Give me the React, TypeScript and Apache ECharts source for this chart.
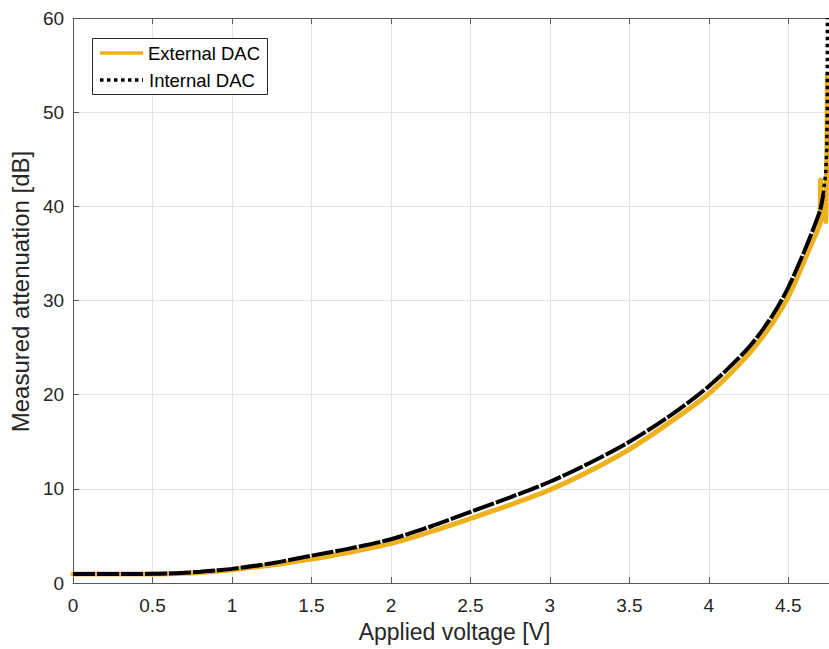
import React, { useEffect, useRef } from "react";
import * as echarts from "echarts";

// Applied voltage [V] vs measured attenuation [dB]
const externalDAC: [number, number][] = [
  [0, 0.95], [0.3, 0.95], [0.5, 0.95], [0.6, 0.98], [0.7, 1.03], [0.8, 1.12], [0.9, 1.25],
  [1.0, 1.4], [1.25, 1.9], [1.5, 2.55], [1.75, 3.3], [2.0, 4.2], [2.25, 5.45], [2.5, 6.85],
  [2.75, 8.3], [3.0, 9.9], [3.25, 11.9], [3.5, 14.2], [3.75, 17.0], [4.0, 20.1],
  [4.25, 24.3], [4.4, 27.6], [4.5, 30.4], [4.57, 33.0], [4.62, 35.0], [4.68, 37.3],
  [4.7, 38.2],
];

const externalDACTail: [number, number][] = [
  [4.7, 38.2], [4.703, 42.8], [4.708, 38.6], [4.73, 39.2], [4.736, 38.4], [4.742, 45],
  [4.746, 54], [4.749, 47], [4.752, 52],
];

const internalDAC: [number, number][] = [
  [0, 0.95], [0.3, 0.95], [0.5, 0.97], [0.6, 1.0], [0.7, 1.08], [0.8, 1.2], [0.9, 1.35],
  [1.0, 1.5], [1.25, 2.1], [1.5, 2.9], [1.75, 3.7], [2.0, 4.65], [2.25, 6.0], [2.5, 7.55],
  [2.75, 9.1], [3.0, 10.75], [3.25, 12.75], [3.5, 15.0], [3.75, 17.7], [4.0, 20.9],
  [4.25, 25.0], [4.4, 28.4], [4.5, 31.4], [4.6, 35.2], [4.65, 37.3], [4.7, 39.6],
  [4.72, 41.3],
];

const internalDACTail: [number, number][] = [
  [4.72, 41.3], [4.735, 43.5], [4.742, 46], [4.745, 50], [4.746, 60],
];

const xTicks = { min: 0, max: 4.8, interval: 0.5 };
const yTicks = { min: 0, max: 60, interval: 10 };

const xTitle = "Applied voltage [V]";
const yTitle = "Measured attenuation [dB]";
const legendNames = ["External DAC", "Internal DAC"];

const FONT = "'Liberation Sans', Arial, Helvetica, sans-serif";
const ORANGE = "#EDB120";
const AXIS = "#5a5a5a";
const TEXT = "#262626";
const GRID = "#e3e3e3";

export default function App() {
  const ref = useRef<HTMLDivElement>(null);
  useEffect(() => {
    if (!ref.current) return;
    const chart = echarts.init(ref.current, undefined, { renderer: "svg" });
    const fmt = (v: number) =>
      Math.abs(v * 2 - Math.round(v * 2)) < 1e-6 ? String(Math.round(v * 10) / 10) : "";
    const orangeStyle = { color: ORANGE, width: 5, join: "round", cap: "round" };
    chart.setOption({
      animation: false,
      backgroundColor: "#ffffff",
      grid: { left: 72, right: 4, top: 18, bottom: 66, containLabel: false },
      xAxis: [
        {
          type: "value",
          ...xTicks,
          name: xTitle,
          nameLocation: "middle",
          nameGap: 37,
          nameTextStyle: { fontFamily: FONT, fontSize: 23, color: TEXT },
          axisLine: { show: true, lineStyle: { color: AXIS, width: 1 } },
          axisTick: { show: true, inside: true, length: 6, lineStyle: { color: AXIS } },
          axisLabel: { margin: 13, fontFamily: FONT, fontSize: 19, color: TEXT, formatter: fmt },
          splitLine: { show: true, lineStyle: { color: GRID, width: 1 } },
        },
        {
          type: "value",
          position: "top",
          ...xTicks,
          axisLine: { show: true, onZero: false, lineStyle: { color: AXIS, width: 1 } },
          axisTick: { show: true, inside: true, length: 6, lineStyle: { color: AXIS } },
          axisLabel: { show: false },
          splitLine: { show: false },
        },
      ],
      yAxis: {
        type: "value",
        ...yTicks,
        name: yTitle,
        nameLocation: "middle",
        nameGap: 40,
        nameTextStyle: { fontFamily: FONT, fontSize: 24, color: TEXT, padding: [0, 0, 0, 18] },
        axisLine: { show: true, lineStyle: { color: AXIS, width: 1 } },
        axisTick: { show: true, inside: true, length: 6, lineStyle: { color: AXIS } },
        axisLabel: { margin: 9, fontFamily: FONT, fontSize: 19, color: TEXT },
        splitLine: { show: true, lineStyle: { color: GRID, width: 1 } },
      },
      series: [
        {
          name: legendNames[0],
          type: "line",
          xAxisIndex: 0,
          data: externalDAC,
          showSymbol: false,
          smooth: 0.3,
          lineStyle: orangeStyle,
          itemStyle: { color: ORANGE },
        },
        {
          name: legendNames[0],
          type: "line",
          xAxisIndex: 0,
          data: externalDACTail,
          showSymbol: false,
          lineStyle: orangeStyle,
          itemStyle: { color: ORANGE },
        },
        {
          name: legendNames[1],
          type: "line",
          xAxisIndex: 0,
          data: internalDAC,
          showSymbol: false,
          smooth: 0.3,
          lineStyle: { color: "#000", width: 4, type: [22, 2] },
          itemStyle: { color: "#000" },
        },
        {
          name: legendNames[1],
          type: "line",
          xAxisIndex: 0,
          data: internalDACTail,
          showSymbol: false,
          lineStyle: { color: "#000", width: 3.5, type: [3.5, 3.5] },
          itemStyle: { color: "#000" },
        },
      ],
      graphic: [
        {
          type: "rect",
          shape: { x: 92.5, y: 38.5, width: 175, height: 56 },
          style: { fill: "#fff", stroke: TEXT, lineWidth: 1 },
          z: 100,
        },
        {
          type: "line",
          shape: { x1: 100, y1: 53, x2: 143, y2: 53 },
          style: { stroke: ORANGE, lineWidth: 3.5 },
          z: 101,
        },
        {
          type: "line",
          shape: { x1: 100, y1: 80, x2: 143, y2: 80 },
          style: { stroke: "#000", lineWidth: 3.5, lineDash: [3.5, 3.5] },
          z: 101,
        },
        {
          type: "text",
          x: 148,
          y: 53,
          style: {
            text: legendNames[0],
            font: `18.5px ${FONT}`,
            fill: "#000",
            verticalAlign: "middle",
          },
          z: 101,
        },
        {
          type: "text",
          x: 149,
          y: 80,
          style: {
            text: legendNames[1],
            font: `18.5px ${FONT}`,
            fill: "#000",
            verticalAlign: "middle",
          },
          z: 101,
        },
      ],
    });
    return () => chart.dispose();
  }, []);
  return (
    <div
      style={{
        position: "fixed",
        left: 0,
        top: 0,
        width: 829,
        height: 649,
        overflow: "hidden",
        background: "#fff",
      }}
    >
      <div ref={ref} style={{ width: 840, height: 649 }} />
    </div>
  );
}
